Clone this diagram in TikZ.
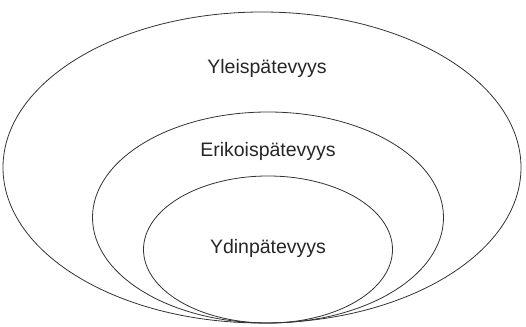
\documentclass[tikz,border=0pt]{standalone}
\usepackage{fontspec}
\setmainfont{Liberation Sans}
\usetikzlibrary{shapes.geometric}

\begin{document}
\begin{tikzpicture}[
    x=1pt, y=-1pt,
    ring/.style={ellipse, draw=black!80, line width=0.8pt, inner sep=0pt, outer sep=0pt},
    lbl/.style={font=\fontsize{19.5}{22}\selectfont, text=black!85, inner sep=0pt},
]
\useasboundingbox (0,0) rectangle (526,326);
\node[ring, minimum width=518pt, minimum height=311pt] (outer) at (262,167.5) {};
\node[ring, minimum width=351pt, minimum height=211pt] (middle) at (268,217.5) {};
\node[ring, minimum width=249pt, minimum height=147pt] (inner) at (268,249.5) {};
\node[lbl] (general) at (267,68) {Yleispätevyys};
\node[lbl] (special) at (268,151) {Erikoispätevyys};
\node[lbl] (core) at (268,248) {Ydinpätevyys};
\end{tikzpicture}
\end{document}
